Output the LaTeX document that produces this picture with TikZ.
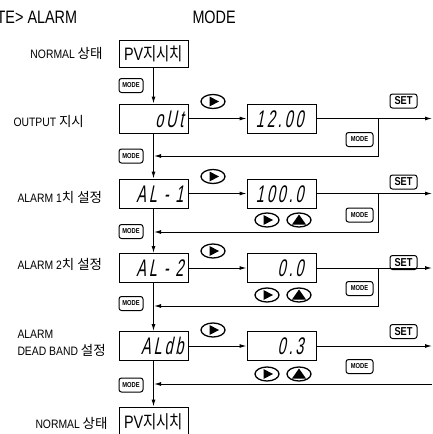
\documentclass[tikz,border=0pt]{standalone}
\usepackage{fontspec}
\setmainfont{Liberation Sans}
\newfontfamily\labf{Liberation Sans}[FakeStretch=0.85]
\newfontfamily\krf{Noto Sans CJK KR}
\newfontfamily\krbox{Noto Sans CJK KR}[FakeStretch=0.8]
\newfontfamily\boxf{Liberation Sans}[FakeStretch=0.8]
\newfontfamily\lcdf{Liberation Sans}[FakeSlant=0.2,FakeStretch=0.6,LetterSpace=12]
\newfontfamily\keyf{Liberation Sans}[FakeStretch=0.8]
\newfontfamily\titlef{Liberation Sans}[FakeStretch=0.8]
\usetikzlibrary{arrows.meta,shapes.geometric}
\newcommand\playtri[1]{\fill ([shift={(-3.5,-5)}]#1.center) -- ([shift={(6,0)}]#1.center) -- ([shift={(-3.5,5)}]#1.center) -- cycle;}
\newcommand\uptri[1]{\fill ([shift={(-7,4.5)}]#1.center) -- ([shift={(7,4.5)}]#1.center) -- ([shift={(0,-5.5)}]#1.center) -- cycle;}
\newcommand\kr[1]{{\krf\fontsize{13.5}{17}\selectfont #1}}
\newcommand\lcdleft[1]{\makebox[60pt][r]{#1}}
\newcommand\lcdright[1]{\makebox[44pt][r]{#1}}
\begin{document}
\begin{tikzpicture}[x=1pt,y=-1pt,
 line width=1pt,
 >={Latex[length=7pt,width=4pt]},
 lbl/.style={font=\labf\fontsize{12.2}{17}\selectfont, inner sep=0pt, anchor=west, align=left},
 title/.style={font=\titlef\fontsize{18}{18}\selectfont, inner sep=0pt, anchor=base west},
 pvbox/.style={draw, minimum width=69pt, minimum height=27pt, inner sep=0pt, font=\boxf\fontsize{18}{18}\selectfont},
 lcd/.style={draw, minimum width=69pt, minimum height=29pt, inner sep=0pt, text height=17pt, text depth=0pt, font=\lcdf\fontsize{24}{24}\selectfont},
 key/.style={draw, rounded corners=2.5pt, inner sep=0pt, minimum height=14pt, font=\keyf\bfseries\fontsize{7.2}{8}\selectfont},
 modeL/.style={key, minimum width=24pt},
 modeR/.style={key, minimum width=27pt},
 setkey/.style={key, minimum width=27pt, font=\keyf\bfseries\fontsize{11.5}{12}\selectfont},
 btn/.style={draw, ellipse, line width=1.3pt, minimum width=24pt, minimum height=14pt, inner sep=0pt},
]
\useasboundingbox (0,0) rectangle (432,434);

% titles
\node[title] (t1) at (-3.8,23) {TE> ALARM};
\node[title] (t2) at (192,23) {MODE};

% labels
\node[lbl] (l0) at (30,53.5) {NORMAL \kr{상태}};
\node[lbl] (l1) at (13,121) {OUTPUT \kr{지시}};
\node[lbl] (l2) at (17,197) {ALARM 1\kr{치 설정}};
\node[lbl] (l3) at (17,264) {ALARM 2\kr{치 설정}};
\node[lbl] (l4) at (17,343.5) {ALARM\\DEAD BAND \kr{설정}};
\node[lbl] (l5) at (35,423) {NORMAL \kr{상태}};

% left column
\node[pvbox] (pv1) at (153.5,53.5) {PV{\krbox 지시치}};
\node[lcd] (out) at (153.5,118.5) {\lcdleft{oUt}};
\node[lcd] (al1) at (153.5,193.5) {\lcdleft{AL - 1}};
\node[lcd] (al2) at (153.5,268) {\lcdleft{AL - 2}};
\node[lcd] (aldb) at (153.5,346) {\lcdleft{ALdb}};
\node[pvbox, minimum height=29pt] (pv2) at (153.5,421.5) {PV{\krbox 지시치}};

% right column
\node[lcd] (r1) at (281.5,118.5) {\lcdright{12.00}};
\node[lcd] (r2) at (281.5,193.5) {\lcdright{100.0}};
\node[lcd] (r3) at (281.5,268) {\lcdright{0.0}};
\node[lcd] (r4) at (281.5,346) {\lcdright{0.3}};

% play buttons above arrows
\node[btn] (p1) at (213,101.5) {}; \playtri{p1}
\node[btn] (p2) at (213,176.5) {}; \playtri{p2}
\node[btn] (p3) at (213,251) {}; \playtri{p3}
\node[btn] (p4) at (213,330) {}; \playtri{p4}

% play / up pairs
\node[btn] (q2) at (267,220) {}; \playtri{q2}
\node[btn] (u2) at (299,220) {}; \uptri{u2}
\node[btn] (q3) at (267,295) {}; \playtri{q3}
\node[btn] (u3) at (299,295) {}; \uptri{u3}
\node[btn] (q4) at (267,374) {}; \playtri{q4}
\node[btn] (u4) at (299,374) {}; \uptri{u4}

% keys
\node[setkey] (s1) at (403.5,101) {SET};
\node[setkey] (s2) at (403.5,182) {SET};
\node[setkey] (s3) at (403.5,262.5) {SET};
\node[setkey] (s4) at (403.5,331.5) {SET};
\node[modeR] (mr1) at (359.5,139.5) {MODE};
\node[modeR] (mr2) at (359.5,215) {MODE};
\node[modeR] (mr3) at (359.5,288.5) {MODE};
\node[modeR] (mr4) at (359.5,366.5) {MODE};
\node[modeL] (m0) at (131,85.5) {MODE};
\node[modeL] (m1) at (131,156) {MODE};
\node[modeL] (m2) at (131,231.5) {MODE};
\node[modeL] (m3) at (131,303.5) {MODE};
\node[modeL] (m4) at (131,385) {MODE};

% coordinates
\coordinate (e1) at (432,118.5);
\coordinate (e2) at (432,193.5);
\coordinate (e3) at (432,268);
\coordinate (e4) at (432,346);
\coordinate (b1) at (378,118.5);
\coordinate (b2) at (378,193.5);
\coordinate (b3) at (378,268);
\coordinate (c1) at (378,156);
\coordinate (c2) at (378,232);
\coordinate (c3) at (378,306);
\coordinate (c4) at (432,384);
\coordinate (j1) at (154,156);
\coordinate (j2) at (154,232);
\coordinate (j3) at (154,306);
\coordinate (j4) at (154,384);

% main vertical flow
\draw[->] (pv1) -- (out);
\draw[->] (out) -- (al1);
\draw[->] (al1) -- (al2);
\draw[->] (al2) -- (aldb);
\draw[->] (aldb) -- (pv2);

% horizontal flow
\draw[->] (out) -- (r1);
\draw[->] (al1) -- (r2);
\draw[->] (al2) -- (r3);
\draw[->] (aldb) -- (r4);
\draw[->] (r1) -- (e1);
\draw[->] (r2) -- (e2);
\draw[->] (r3) -- (e3);
\draw[->] (r4) -- (e4);

% returns
\draw[->] (b1) -- (c1) -- (j1);
\draw[->] (b2) -- (c2) -- (j2);
\draw[->] (b3) -- (c3) -- (j3);
\draw[->] (c4) -- (j4);
\end{tikzpicture}
\end{document}
